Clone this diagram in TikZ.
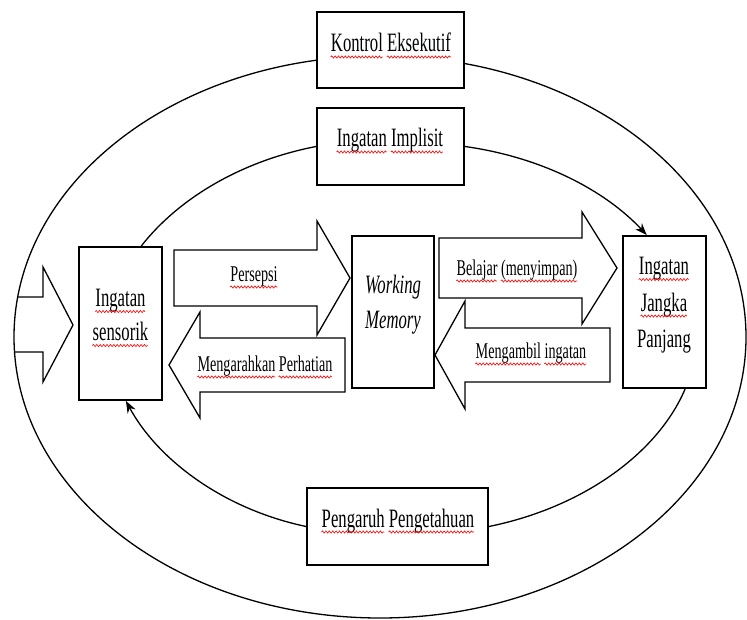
\documentclass[tikz,border=0pt]{standalone}
\usepackage{fontspec}
\setmainfont{Liberation Serif}[FakeStretch=0.63]
\usetikzlibrary{arrows.meta,decorations.pathmorphing}
\tikzset{spellline/.style={red,line width=0.6pt,decorate,
  decoration={snake,amplitude=1.1pt,segment length=3.4pt}}}
\newsavebox\spellbox
\newcommand\spell[1]{\sbox\spellbox{#1}\usebox\spellbox\llap{\tikz[baseline=0pt,x=1pt,y=1pt]\draw[spellline] (0,-5) -- (\wd\spellbox,-5);}}
\begin{document}
\begin{tikzpicture}[x=1pt,y=1pt,
  box/.style={draw,line width=1.9pt,fill=white,inner sep=0pt},
  link/.style={line width=1.3pt},
  blockarrow/.style={draw,line width=1.3pt,fill=white,line join=miter},
  bigtext/.style={inner sep=0pt,font=\fontsize{26.5}{34}\selectfont},
  smalltext/.style={inner sep=0pt,font=\fontsize{22.5}{26}\selectfont}]
\useasboundingbox (0,0) rectangle (747,619);

% outer loop
\draw[link] (380,282) ellipse [x radius=366, y radius=281];

\node[box,minimum width=147pt,minimum height=76pt] (kontrol) at (390.5,569) {};
\node[box,minimum width=147pt,minimum height=77pt] (implisit) at (390.5,472.5) {};
\node[box,minimum width=83pt,minimum height=153pt] (sensorik) at (120.5,295.5) {};
\node[box,minimum width=82pt,minimum height=152pt] (working) at (393,307) {};
\node[box,minimum width=83pt,minimum height=152pt] (jangka) at (664.5,307) {};
\node[box,minimum width=181pt,minimum height=77pt] (pengaruh) at (397.5,92.5) {};

% inner loop
\draw[link] (sensorik.75) .. controls +(52:59) and +(191:78) .. (implisit.west);
\draw[link,-{Stealth[length=12pt,width=9pt]}] (implisit.east) .. controls +(-8:78) and +(133:61) .. (jangka.103);
\draw[link] (jangka.285) .. controls +(247:69) and +(11.5:97) .. (pengaruh.east);
\draw[link,-{Stealth[length=12pt,width=9pt]}] (pengaruh.west) .. controls +(168:88) and +(-61.6:64) .. (sensorik.274);

% block arrows
\draw[blockarrow,fill=none] (17.5,322) -- (43,322) -- (43,352) -- (73,294) -- (43,237) -- (43,267) -- (14.5,267);
\draw[blockarrow] (174,369) -- (317,369) -- (317,398) -- (350,341) -- (317,284) -- (317,313) -- (174,313) -- cycle;
\draw[blockarrow] (345,281) -- (200,281) -- (200,307) -- (169,254) -- (200,201) -- (200,227) -- (345,227) -- cycle;
\draw[blockarrow] (439,381) -- (582,381) -- (582,407) -- (617,351) -- (582,295) -- (582,321) -- (439,321) -- cycle;
\draw[blockarrow] (610,291) -- (465,291) -- (465,318) -- (435,264) -- (465,210) -- (465,237) -- (610,237) -- cycle;

% texts
\node[bigtext,anchor=base] (tkontrol) at (391,567) {\spell{Kontrol} \spell{Eksekutif}};
\node[bigtext,anchor=base] (timplisit) at (390,472) {\spell{Ingatan} \spell{Implisit}};
\node[bigtext,anchor=north,align=center] (tsensorik) at (120.5,330) {\spell{Ingatan}\\\spell{sensorik}};
\node[bigtext,anchor=north,align=center,font=\fontsize{26.5}{35}\selectfont\itshape] (tworking) at (393,344) {Working\\Memory};
\node[bigtext,anchor=north,align=center,font=\fontsize{26.5}{36.5}\selectfont] (tjangka) at (664,362) {\spell{Ingatan}\\\spell{Jangka}\\Panjang};
\node[bigtext,anchor=base] (tpengaruh) at (398,92) {\spell{Pengaruh} \spell{Pengetahuan}};
\node[smalltext,anchor=base] (tpersepsi) at (254,337) {\spell{Persepsi}};
\node[smalltext,anchor=base] (tarahkan) at (265,247) {\spell{Mengarahkan} \spell{Perhatian}};
\node[smalltext,anchor=base] (tbelajar) at (517,343) {\spell{Belajar} \spell{(menyimpan)}};
\node[smalltext,anchor=base] (tambil) at (531,260) {\spell{Mengambil} \spell{ingatan}};
\end{tikzpicture}
\end{document}
